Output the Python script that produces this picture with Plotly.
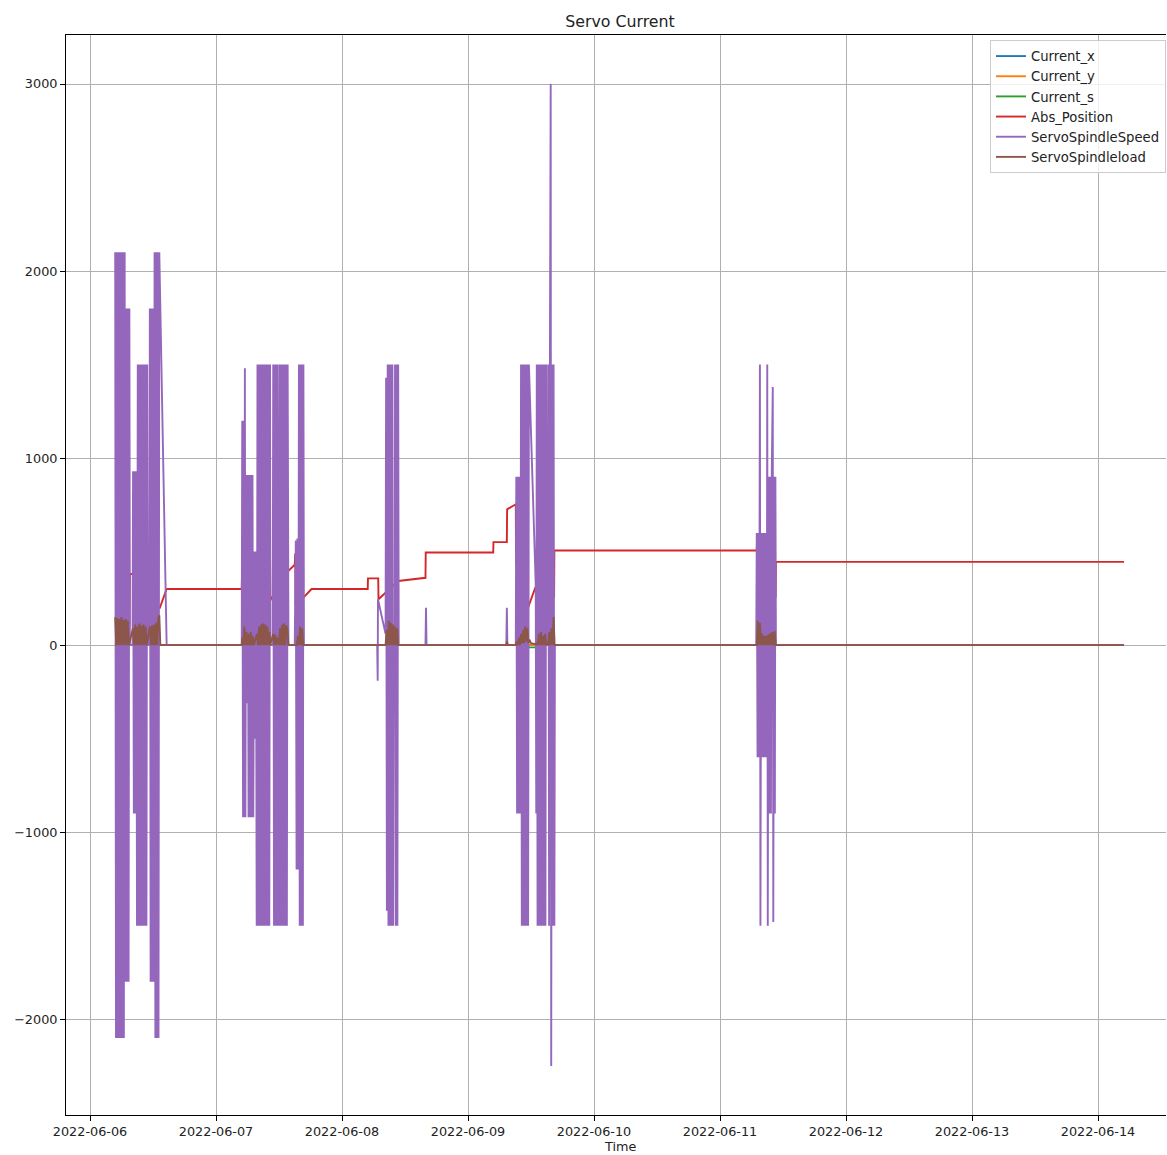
import pandas as pd
import plotly.graph_objects as go

# ---------------- data (hours after 2022-06-06 00:00) ----------------
BASE = "2022-06-06 00:00"

cur_hours = [4.8, 83.4, 83.5, 84.9, 85.0, 196.95]
current_x = [0, 0, 0, 0, 0, 0]
current_y = [0, 0, 0, 0, 0, 0]
current_s = [0, 0, -12, -12, 0, 0]

pos_hours = [4.8, 7.4, 7.5, 7.6, 8.3, 8.4, 8.5, 11.0, 11.1, 13.3, 14.6, 28.9, 29.0,
             34.3, 34.35, 37.7, 39.0, 39.1, 39.15, 42.2, 52.9, 52.95, 54.9, 54.95,
             58.7, 63.9, 63.95, 76.8, 76.85, 79.4, 79.45, 81.1, 81.15, 83.2, 84.8,
             87.0, 88.4, 88.45, 127.0, 127.05, 130.6, 130.65, 196.95]
abs_position = [350, 360, 100, 380, 380, 545, 380, 390, 220, 200, 300, 300, 445,
                465, 240, 395, 430, 490, 210, 300, 300, 357, 357, 245,
                343, 360, 495, 495, 551, 551, 726, 753, 440, 182, 306,
                392, 253, 506, 506, 565, 253, 445, 445]

speed_hours = [
    # day 1 burst
    4.8, 4.95, 5.1, 5.25, 5.4, 5.55, 5.7, 5.85, 6.0, 6.15, 6.3, 6.45, 6.6,
    6.75, 6.9, 7.05, 7.2, 7.35, 7.5, 7.6, 8.1,
    8.2, 8.35, 8.5, 8.65, 8.8,
    8.95, 9.1, 9.25, 9.4, 9.55, 9.7, 9.85, 10.0, 10.15, 10.3, 10.45, 10.6, 10.75, 10.9, 11.0, 11.3,
    11.4, 11.55, 11.7, 11.85, 12.0, 12.15,
    12.3, 12.45, 12.6, 12.75, 12.9, 13.05, 13.2, 14.6,
    # day 2 burst
    28.9, 29.0, 29.15, 29.3, 29.4, 29.5, 29.6,
    29.75, 29.9, 30.05, 30.2, 30.35, 30.5, 30.65, 30.8, 30.95, 31.1, 31.3, 31.45, 31.6,
    31.75, 31.9, 32.05, 32.2, 32.35, 32.5, 32.65, 32.8, 32.95, 33.1, 33.25, 33.4, 33.55, 33.7,
    33.85, 34.0, 34.15, 34.3, 34.35, 34.8,
    34.9, 35.05, 35.2, 35.35, 35.5, 35.65, 35.75, 35.85, 35.95,
    36.0, 36.15, 36.3, 36.45, 36.6, 36.75, 36.9, 37.05, 37.2, 37.35, 37.5, 37.65, 37.8, 39.0,
    39.2, 39.35, 39.5, 39.65, 39.8, 39.95, 40.1, 40.25, 40.4, 40.55, 40.65, 40.75,
    # day 3 burst
    54.7, 54.8, 54.85, 56.3, 56.4, 56.55, 56.7, 56.85, 57.0, 57.15, 57.3, 57.45, 57.6, 57.75,
    57.85, 58.05, 58.1, 58.25, 58.4, 58.55, 58.7, 58.8,
    63.9, 64.0, 64.1, 79.3, 79.4, 79.5,
    # day 4 burst
    81.1, 81.2, 81.35, 81.5, 81.65, 81.8, 81.95,
    82.1, 82.25, 82.4, 82.55, 82.7, 82.85, 83.0, 83.15, 83.3, 83.45, 83.6, 84.9, 85.0,
    85.1, 85.25, 85.4, 85.55, 85.7, 85.85, 86.0, 86.15, 86.3, 86.45, 86.6, 86.75, 86.9, 87.0, 87.25,
    87.3, 87.45, 87.6, 87.75, 87.85, 88.0, 88.15, 88.3, 88.45, 88.55,
    # day 6 burst
    126.9, 127.0, 127.15, 127.3, 127.45, 127.6, 127.7, 127.85, 128.0, 128.15, 128.3, 128.45,
    128.6, 128.75, 128.9,
    129.0, 129.1, 129.25, 129.4, 129.55, 129.7, 129.85, 130.05, 130.15, 130.3, 130.45, 130.55,
    130.65, 196.95]
spindle_speed = [
    # day 1 burst
    2100, -2100, 2100, -2100, 2100, -2100, 2100, -2100, 2100, -2100, 2100, -2100, 2100,
    -1800, 1800, -1800, 1800, -1800, 1800, 0, 0,
    930, -900, 930, -900, 930,
    -1500, 1500, -1500, 1500, -1500, 1500, -1500, 1500, -1500, 1500, -1500, 1500, -1500, 1500, 0, 0,
    1800, -1800, 1800, -1800, 1800, -1800,
    2100, -2100, 2100, -2100, 2100, -2100, 2100, 0,
    # day 2 burst
    0, 1200, -920, 1200, -920, 1480, -920,
    910, -310, 910, -920, 910, -920, 910, -920, 910, -920, 500, -500, 500,
    -1500, 1500, -1500, 1500, -1500, 1500, -1500, 1500, -1500, 1500, -1500, 1500, -1500, 1500,
    -1500, 1500, -1500, 1500, 0, 0,
    1500, -1500, 1500, -1500, 1500, -1500, 1500, 0, 0,
    -1500, 1500, -1500, 1500, -1500, 1500, -1500, 1500, -1500, 1500, -1500, 1500, 0, 0,
    560, -1200, 570, -1200, 1500, -1500, 1500, -1500, 1500, -1500, 1500, 0,
    # day 3 burst
    0, -190, 245, 60, 1430, -1420, 1500, -1500, 1500, -1500, 1500, -1500, 1500, -1500,
    0, 0, 1500, -1500, 1500, -1500, 1500, 0,
    0, 200, 0, 0, 200, 0,
    # day 4 burst
    0, 900, -900, 900, -900, 900, -900,
    1500, -1500, 1500, -1500, 1500, -1500, 1500, -1500, 1500, -1500, 1500, 320, -900,
    1500, -1500, 1500, -1500, 1500, -1500, 1500, -1500, 1500, -1500, 1500, -1500, 1500, 0, 0,
    1500, -1500, 1500, 3000, -2250, 1500, -1500, 1500, -1500, 0,
    # day 6 burst
    0, 600, -600, 600, -600, 1500, -1500, 600, -600, 600, -600, 600,
    -600, 600, -600,
    1500, -1500, 900, -900, 900, -900, 900, 1380, -1480, 900, -900, 900,
    0, 0]

load_hours = [
    4.8, 5.0, 5.2, 5.4, 5.6, 5.8, 6.0, 6.2, 6.4, 6.6, 6.8, 7.0, 7.2, 7.4,
    8.2, 8.4, 8.6, 8.8, 9.0, 9.2, 9.4, 9.6, 9.8, 10.0, 10.2, 10.4, 10.6, 10.8,
    11.4, 11.6, 11.8, 12.0, 12.2, 12.4, 12.6, 12.8, 13.0, 13.2, 13.4,
    28.9, 29.0, 29.2, 29.4, 29.6, 29.8, 30.0, 30.2, 30.4, 30.6, 30.8, 31.0, 31.2,
    31.8, 32.0, 32.2, 32.4, 32.6, 32.8, 33.0, 33.2, 33.4, 33.6, 33.8, 34.0, 34.2,
    34.3, 34.9, 35.1, 35.3, 35.5, 35.7,
    36.0, 36.2, 36.4, 36.6, 36.8, 37.0, 37.2, 37.4, 37.6, 37.8,
    39.4, 39.6, 39.8, 40.0, 40.2, 40.4, 40.6,
    56.3, 56.5, 56.7, 56.9, 57.1, 57.3, 57.5, 57.7, 57.9, 58.1, 58.3, 58.5, 58.7,
    79.3, 79.4, 79.6,
    81.1, 81.3, 81.5, 81.7, 81.9, 82.1, 82.3, 82.5, 82.7, 82.9, 83.1, 83.3, 83.5, 83.7,
    84.0, 84.9, 85.1,
    85.3, 85.5, 85.7, 85.9, 86.1, 86.3, 86.5, 86.7, 86.9, 87.1, 87.3, 87.5, 87.7,
    87.9, 88.1, 88.3, 88.5,
    127.0, 127.2, 127.4, 127.6, 127.8, 128.0, 128.2, 128.4, 128.6, 128.8,
    129.0, 129.2, 129.4, 129.6, 129.8, 130.0, 130.2, 130.4, 130.6,
    196.95]
spindle_load = [
    150, 0, 145, 0, 140, 0, 150, 0, 135, 0, 140, 0, 130, 0,
    90, 0, 110, 0, 100, 0, 115, 0, 105, 0, 110, 0, 100, 0,
    100, 0, 105, 0, 110, 0, 120, 0, 140, 160, 0,
    0, 40, 0, 100, 0, 70, 0, 60, 0, 70, 0, 50, 0,
    60, 0, 100, 0, 110, 0, 115, 0, 110, 0, 100, 0, 70,
    0, 60, 0, 55, 0, 40,
    0, 90, 0, 110, 0, 115, 0, 105, 80, 0,
    0, 50, 0, 100, 0, 90, 0,
    0, 80, 0, 130, 0, 120, 0, 110, 0, 100, 0, 90, 0,
    0, 20, 0,
    0, 20, 0, 40, 0, 60, 10, 80, 10, 100, 20, 90, 10, 30,
    10, 5, 10,
    0, 60, 0, 70, 0, 50, 0, 60, 0, 20, 0, 70, 0,
    90, 0, 150, 0,
    0, 130, 0, 120, 0, 60, 0, 50, 0, 50,
    0, 55, 0, 65, 0, 70, 0, 75, 0,
    0]

x_tick_dates = ["2022-06-06", "2022-06-07", "2022-06-08", "2022-06-09", "2022-06-10",
                "2022-06-11", "2022-06-12", "2022-06-13", "2022-06-14"]
y_tick_vals = [-2000, -1000, 0, 1000, 2000, 3000]
y_tick_text = ["\u22122000", "\u22121000", "0", "1000", "2000", "3000"]

# ---------------- figure ----------------
base = pd.Timestamp(BASE)


def to_time(hours):
    return base + pd.to_timedelta(pd.Series(hours, dtype=float), unit="h")


FONT = "DejaVu Sans"
TXT = "#222222"
LW = 1.9
CENTER_X = 0.5036  # the original axes extend slightly past the cropped right edge

series = [
    ("Current_x", cur_hours, current_x, "#1f77b4"),
    ("Current_y", cur_hours, current_y, "#ff7f0e"),
    ("Current_s", cur_hours, current_s, "#2ca02c"),
    ("Abs_Position", pos_hours, abs_position, "#d62728"),
    ("ServoSpindleSpeed", speed_hours, spindle_speed, "#9467bd"),
    ("ServoSpindleload", load_hours, spindle_load, "#8c564b"),
]

fig = go.Figure()
for name, hrs, vals, color in series:
    fig.add_trace(go.Scatter(
        x=to_time(hrs), y=vals, name=name, mode="lines",
        line=dict(color=color, width=LW, simplify=False),
    ))

x_range = [base + pd.Timedelta(hours=-4.571), base + pd.Timedelta(hours=204.95)]

fig.update_layout(
    width=1167, height=1155,
    margin=dict(l=66, r=1, t=35, b=40),
    paper_bgcolor="white", plot_bgcolor="white",
    font=dict(family=FONT, size=12.8, color=TXT),
    title=dict(text="Servo Current", x=CENTER_X, xref="paper", xanchor="center",
               y=1 - 21 / 1155, yref="container", yanchor="middle",
               font=dict(family=FONT, size=15.8, color=TXT)),
    showlegend=True,
    legend=dict(x=1, xanchor="right", y=1 - 5 / 1080, yanchor="top",
                bgcolor="rgba(255,255,255,0.8)", bordercolor="#cccccc", borderwidth=1,
                font=dict(family=FONT, size=13.2, color=TXT),
                itemwidth=30, tracegroupgap=0),
    annotations=[dict(text="Time", xref="paper", yref="paper", x=CENTER_X,
                      y=-(1155 - 1115) / 1080, xanchor="center", yanchor="bottom",
                      borderpad=0, showarrow=False,
                      font=dict(family=FONT, size=12.8, color=TXT))],
)

fig.update_xaxes(
    type="date", range=x_range,
    tickvals=[pd.Timestamp(d) for d in x_tick_dates], ticktext=x_tick_dates,
    showgrid=True, gridcolor="#b0b0b0", gridwidth=1,
    showline=True, linecolor="black", linewidth=1, mirror=True,
    ticks="outside", ticklen=5, tickcolor="black", tickwidth=1,
    zeroline=False,
)
fig.update_yaxes(
    range=[-2512, 3262],
    tickvals=y_tick_vals, ticktext=y_tick_text,
    showgrid=True, gridcolor="#b0b0b0", gridwidth=1,
    showline=True, linecolor="black", linewidth=1, mirror=False,
    ticks="outside", ticklen=5, tickcolor="black", tickwidth=1,
    zeroline=False,
)

fig.write_html("out.html")
